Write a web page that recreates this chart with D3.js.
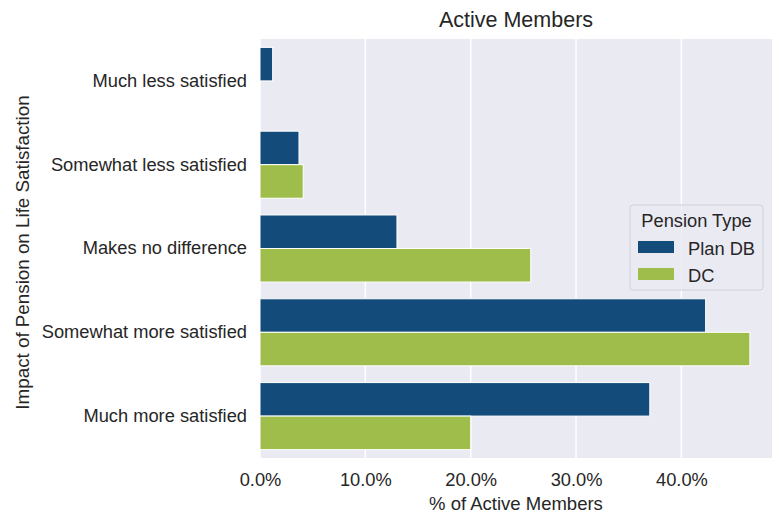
<!DOCTYPE html>
<html><head><meta charset="utf-8">
<script src="https://cdn.jsdelivr.net/npm/d3@7"></script>
<style>body{margin:0;background:#fff;} text{font-family:"Liberation Sans",Arial,sans-serif;fill:#262626;}</style>
</head><body>
<svg id="c" width="776" height="516"></svg>
<script>
const categories = ["Much less satisfied","Somewhat less satisfied","Makes no difference","Somewhat more satisfied","Much more satisfied"];
const seriesNames = ["Plan DB","DC"];
const planDB = [1.2, 3.7, 13.0, 42.3, 37.0];
const dc = [0, 4.1, 25.7, 46.5, 20.0];
const xTicks = [0,10,20,30,40];
const colors = ["#134c7a","#9fbd4a"];

const svg = d3.select("#c");
const m = {l:260, t:39, r:772, b:458};
const x = d3.scaleLinear().domain([0, 48.6]).range([m.l, m.r]);
const y = d3.scaleBand().domain(categories).range([m.t, m.b]).paddingInner(0).paddingOuter(0);
const inner = d3.scaleBand().domain(seriesNames).range([0, y.bandwidth()*0.8]);
const FS = 18.3;

svg.append("rect").attr("x",m.l).attr("y",m.t).attr("width",m.r-m.l).attr("height",m.b-m.t).attr("fill","#eaeaf2");
svg.append("g").selectAll("line").data(xTicks).join("line")
  .attr("x1",d=>x(d)).attr("x2",d=>x(d)).attr("y1",m.t).attr("y2",m.b)
  .attr("stroke","#fff").attr("stroke-width",1.5);

const data = [planDB, dc];
seriesNames.forEach((s,i)=>{
  svg.append("g").selectAll("rect").data(categories.map((c,j)=>({c, v:data[i][j]}))).join("rect")
    .filter(d=>d.v>0)
    .attr("x",x(0)).attr("y",d=>y(d.c)+y.bandwidth()*0.1+inner(s))
    .attr("width",d=>x(d.v)-x(0)).attr("height",inner.bandwidth())
    .attr("fill",colors[i]).attr("stroke","#fff").attr("stroke-width",1);
});

// x axis
const xa = svg.append("g").attr("transform",`translate(0,${m.b})`)
  .call(d3.axisBottom(x).tickValues(xTicks).tickFormat(d=>d3.format(".1f")(d)+"%").tickSize(0).tickPadding(15));
xa.select(".domain").remove();
xa.selectAll("text").attr("font-size",FS).style("font-family","'Liberation Sans',Arial,sans-serif").attr("fill","#262626");
// y axis
const ya = svg.append("g").attr("transform",`translate(${m.l},0)`)
  .call(d3.axisLeft(y).tickSize(0).tickPadding(13));
ya.select(".domain").remove();
ya.selectAll("text").attr("font-size",FS).style("font-family","'Liberation Sans',Arial,sans-serif").attr("fill","#262626");

svg.append("text").attr("x",(m.l+m.r)/2).attr("y",510).attr("text-anchor","middle").attr("font-size",18.5).text("% of Active Members");
svg.append("text").attr("transform",`translate(29,${(m.t+m.b)/2+4}) rotate(-90)`).attr("text-anchor","middle").attr("font-size",18.8).text("Impact of Pension on Life Satisfaction");
svg.append("text").attr("x",(m.l+m.r)/2).attr("y",27).attr("text-anchor","middle").attr("font-size",21.5).text("Active Members");

// legend
const lg = svg.append("g");
lg.append("rect").attr("x",630).attr("y",205).attr("width",133).attr("height",85).attr("rx",3)
  .attr("fill","#eaeaf2").attr("fill-opacity",0.8).attr("stroke","#d0d0d8");
lg.append("text").attr("x",696.5).attr("y",227).attr("text-anchor","middle").attr("font-size",FS).text("Pension Type");
seriesNames.forEach((s,i)=>{
  lg.append("rect").attr("x",638).attr("y",241+i*27).attr("width",36).attr("height",12).attr("fill",colors[i]);
  lg.append("text").attr("x",688).attr("y",255+i*26.5).attr("font-size",FS).text(s);
});
</script>
</body></html>
